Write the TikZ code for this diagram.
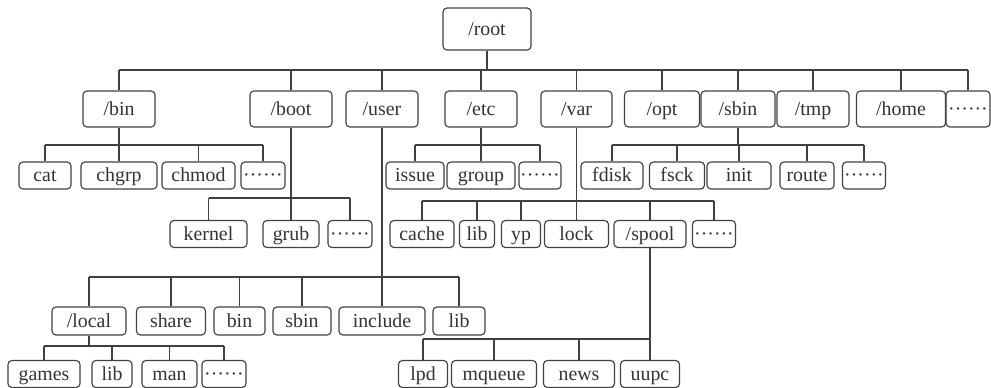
\documentclass[tikz,border=0pt]{standalone}
\usepackage{fontspec}
\setmainfont{Liberation Serif}
\begin{document}
\begin{tikzpicture}[
    x=0.02cm, y=-0.02cm,
    dirbox/.style={draw=black!75, text=black!80, rounded corners=2.2pt, line width=0.65pt, inner sep=0pt,
        text height=9pt, text depth=2pt, font=\fontsize{11.3}{13}\selectfont},
    lone/.style={dirbox, minimum height=0.72cm},
    ltwo/.style={dirbox, minimum height=0.54cm},
    lfour/.style={dirbox, minimum height=0.56cm},
    link/.style={draw=black!75, line width=0.65pt}
]
    \useasboundingbox (0,0) rectangle (991,387);
    % root and first level
    \node[dirbox, minimum width=1.76cm, minimum height=0.84cm] (root) at (487,29) {/root};
    \node[lone, minimum width=1.44cm] (bin)  at (119,109)   {/bin};
    \node[lone, minimum width=1.64cm] (boot) at (291,109)   {/boot};
    \node[lone, minimum width=1.44cm] (user) at (382,109)   {/user};
    \node[lone, minimum width=1.44cm] (etc)  at (481,109)   {/etc};
    \node[lone, minimum width=1.42cm] (var)  at (576.5,109) {/var};
    \node[lone, minimum width=1.50cm] (opt)  at (662,109)   {/opt};
    \node[lone, minimum width=1.48cm] (sbin) at (738,109)   {/sbin};
    \node[lone, minimum width=1.44cm] (tmp)  at (813,109)   {/tmp};
    \node[lone, minimum width=1.78cm] (home) at (901,109)   {/home};
    \node[lone, minimum width=0.88cm] (topdots) at (968,109) {······};
    % second level
    \node[ltwo, minimum width=1.04cm] (cat)     at (45,175.5)    {cat};
    \node[ltwo, minimum width=1.52cm] (chgrp)   at (119,175.5)   {chgrp};
    \node[ltwo, minimum width=1.46cm] (chmod)   at (198.5,175.5) {chmod};
    \node[ltwo, minimum width=0.88cm] (bindots) at (263,175.5)   {······};
    \node[ltwo, minimum width=1.16cm] (issue)   at (415,175.5)   {issue};
    \node[ltwo, minimum width=1.36cm] (group)   at (481,175.5)   {group};
    \node[ltwo, minimum width=0.84cm] (etcdots) at (540,175.5)   {······};
    \node[ltwo, minimum width=1.24cm] (fdisk)   at (612,175.5)   {fdisk};
    \node[ltwo, minimum width=1.10cm] (fsck)    at (677,175.5)   {fsck};
    \node[ltwo, minimum width=1.28cm] (init)    at (739,175.5)   {init};
    \node[ltwo, minimum width=1.08cm] (route)   at (807,175.5)   {route};
    \node[ltwo, minimum width=0.86cm] (sbindots) at (864,175.5)  {······};
    % third level
    \node[ltwo, minimum width=1.54cm] (kernel)   at (208.5,234) {kernel};
    \node[ltwo, minimum width=1.12cm] (grub)     at (291,234)   {grub};
    \node[ltwo, minimum width=0.88cm] (bootdots) at (350,234)   {······};
    \node[ltwo, minimum width=1.28cm] (cache)    at (422,234)   {cache};
    \node[ltwo, minimum width=0.70cm] (varlib)   at (477,234)   {lib};
    \node[ltwo, minimum width=0.78cm] (yp)       at (521,234)   {yp};
    \node[ltwo, minimum width=1.28cm] (lock)     at (576.5,234) {lock};
    \node[ltwo, minimum width=1.44cm] (spool)    at (650,234)   {/spool};
    \node[ltwo, minimum width=0.86cm] (vardots)  at (714,234)   {······};
    % fourth level
    \node[lfour, minimum width=1.48cm] (local)    at (89,321)    {/local};
    \node[lfour, minimum width=1.38cm] (share)    at (171,321)   {share};
    \node[lfour, minimum width=1.02cm] (userbin)  at (239.5,321) {bin};
    \node[lfour, minimum width=1.16cm] (usersbin) at (302,321)   {sbin};
    \node[lfour, minimum width=1.72cm] (include)  at (382,321)   {include};
    \node[lfour, minimum width=1.04cm] (userlib)  at (459,321)   {lib};
    % fifth level
    \node[ltwo, minimum width=1.44cm] (games)     at (44,374)    {games};
    \node[ltwo, minimum width=0.80cm] (locallib)  at (112,374)   {lib};
    \node[ltwo, minimum width=1.10cm] (man)       at (169.5,374) {man};
    \node[ltwo, minimum width=0.88cm] (localdots) at (224,374)   {······};
    \node[ltwo, minimum width=0.98cm] (lpd)       at (423,374)   {lpd};
    \node[ltwo, minimum width=1.70cm] (mqueue)    at (494,374)   {mqueue};
    \node[ltwo, minimum width=1.42cm] (news)      at (579,374)   {news};
    \node[ltwo, minimum width=1.18cm] (uupc)      at (650,374)   {uupc};
    % bus heights
    \coordinate (rootbus)  at (0,70);
    \coordinate (binbus)   at (0,145);
    \coordinate (etcbus)   at (0,145);
    \coordinate (sbinbus)  at (0,145);
    \coordinate (bootbus)  at (0,198);
    \coordinate (varbus)   at (0,201);
    \coordinate (userbus)  at (0,277);
    \coordinate (spoolbus) at (0,339);
    \coordinate (localbus) at (0,346);
    % connectors
    \draw[link] (root.south) -- (root.south |- rootbus);
    \draw[link] (bin.north |- rootbus) -- (topdots.north |- rootbus);
    \foreach \n in {bin,boot,user,etc,var,opt,sbin,tmp,home,topdots}
        \draw[link] (\n.north) -- (\n.north |- rootbus);
    \draw[link] (bin.south) -- (bin.south |- binbus);
    \draw[link] (cat.north |- binbus) -- (bindots.north |- binbus);
    \foreach \n in {cat,chgrp,chmod,bindots}
        \draw[link] (\n.north) -- (\n.north |- binbus);
    \draw[link] (etc.south) -- (etc.south |- etcbus);
    \draw[link] (issue.north |- etcbus) -- (etcdots.north |- etcbus);
    \foreach \n in {issue,group,etcdots}
        \draw[link] (\n.north) -- (\n.north |- etcbus);
    \draw[link] (sbin.south) -- (sbin.south |- sbinbus);
    \draw[link] (fdisk.north |- sbinbus) -- (sbindots.north |- sbinbus);
    \foreach \n in {fdisk,fsck,init,route,sbindots}
        \draw[link] (\n.north) -- (\n.north |- sbinbus);
    \draw[link] (boot.south) -- (boot.south |- bootbus);
    \draw[link] (kernel.north |- bootbus) -- (bootdots.north |- bootbus);
    \foreach \n in {kernel,grub,bootdots}
        \draw[link] (\n.north) -- (\n.north |- bootbus);
    \draw[link] (var.south) -- (var.south |- varbus);
    \draw[link] (cache.north |- varbus) -- (vardots.north |- varbus);
    \foreach \n in {cache,varlib,yp,lock,spool,vardots}
        \draw[link] (\n.north) -- (\n.north |- varbus);
    \draw[link] (user.south) -- (user.south |- userbus);
    \draw[link] (local.north |- userbus) -- (userlib.north |- userbus);
    \foreach \n in {local,share,userbin,usersbin,include,userlib}
        \draw[link] (\n.north) -- (\n.north |- userbus);
    \draw[link] (local.south) -- (local.south |- localbus);
    \draw[link] (games.north |- localbus) -- (localdots.north |- localbus);
    \foreach \n in {games,locallib,man,localdots}
        \draw[link] (\n.north) -- (\n.north |- localbus);
    \draw[link] (spool.south) -- (spool.south |- spoolbus);
    \draw[link] (lpd.north |- spoolbus) -- (uupc.north |- spoolbus);
    \foreach \n in {lpd,mqueue,news,uupc}
        \draw[link] (\n.north) -- (\n.north |- spoolbus);
\end{tikzpicture}
\end{document}
